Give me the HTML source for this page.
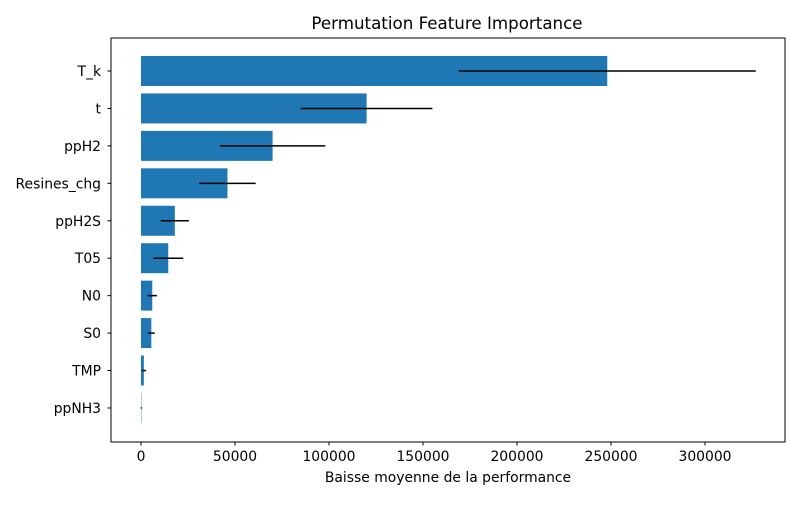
<!DOCTYPE html>
<html><head><meta charset="utf-8"><style>
body{margin:0;background:#fff;font-family:"Liberation Sans","DejaVu Sans",sans-serif}
svg text{font-family:"DejaVu Sans","Liberation Sans",sans-serif;fill:#000}
</style></head><body>
<svg id="chart" width="800" height="500">
<rect width="800" height="500" fill="#fff"/>
<text x="447" y="29" font-size="16.7" text-anchor="middle">Permutation Feature Importance</text>
<g id="bars"></g><g id="errs"></g><g id="xt"></g><g id="yt"></g>
<rect x="111" y="38" width="674" height="404" fill="none" stroke="#000" stroke-width="1"/>
<text x="448" y="482" font-size="13.9" text-anchor="middle">Baisse moyenne de la performance</text>
</svg>
<script>
const features=["T_k","t","ppH2","Resines_chg","ppH2S","T05","N0","S0","TMP","ppNH3"];
const importances=[248000,120000,70000,46000,18000,14500,6000,5500,1500,200];
const errors=[79000,35000,28000,15000,7500,8000,2500,1800,1200,300];
const xTicks=[0,50000,100000,150000,200000,250000,300000];
const X0=111,X1=785,xmin=-15957,xmax=342553;
const x=v=>X0+(v-xmin)/(xmax-xmin)*(X1-X0);
const yc=i=>71+i*37.44;const bh=30;
const ns="http://www.w3.org/2000/svg";
function mk(t,a,p){const e=document.createElementNS(ns,t);for(const k in a)e.setAttribute(k,a[k]);document.getElementById(p).appendChild(e);return e;}
features.forEach((f,i)=>{
 const r=mk('rect',{x:x(0),y:yc(i)-bh/2,width:x(importances[i])-x(0),height:bh,fill:'#1f77b4'},'bars');
 
 
 const l=mk('line',{x1:x(importances[i]-errors[i]),x2:x(importances[i]+errors[i]),y1:yc(i),y2:yc(i),stroke:'#000','stroke-width':1.5},'errs');
 
 
 mk('line',{x1:107.5,x2:111,y1:yc(i),y2:yc(i),stroke:'#000'},'yt');
 const t=mk('text',{x:101,y:yc(i)+5,'font-size':13.9,'text-anchor':'end'},'yt');t.textContent=f;
 
 
});
xTicks.forEach(v=>{
 mk('line',{x1:x(v),x2:x(v),y1:442,y2:445.5,stroke:'#000'},'xt');
 const t=mk('text',{x:x(v),y:461,'font-size':13.9,'text-anchor':'middle'},'xt');t.textContent=v;
 
 
});
</script>
</body></html>
